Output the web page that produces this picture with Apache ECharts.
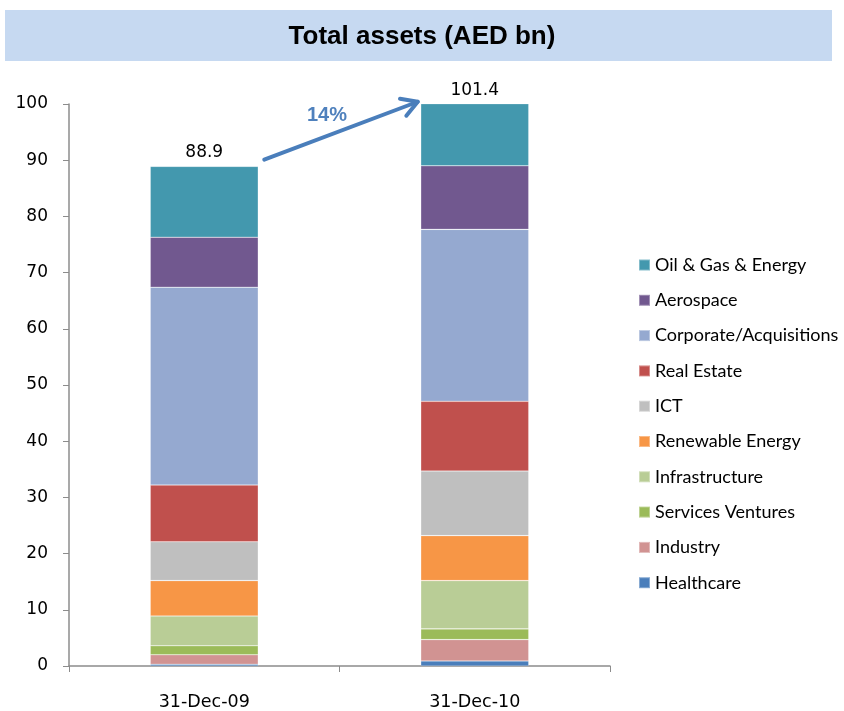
<!DOCTYPE html>
<html>
<head>
<meta charset="utf-8">
<title>Total assets (AED bn)</title>
<script src="https://cdn.jsdelivr.net/npm/echarts@6/dist/echarts.min.js"></script>
<style>
  html, body { margin: 0; padding: 0; background: #fff; }
  #chart { width: 844px; height: 711px; }
</style>
</head>
<body>
<div id="chart"></div>
<script>
// categories and values (AED bn), bottom of stack first
var categories = ["31-Dec-09", "31-Dec-10"];
var healthcare = [0.3, 0.9];
var industry = [1.7, 3.8];
var servicesVentures = [1.6, 1.9];
var infrastructure = [5.3, 8.6];
var renewableEnergy = [6.3, 8.0];
var ict = [6.9, 11.5];
var realEstate = [10.1, 12.4];
var corporate = [35.2, 30.6];
var aerospace = [8.9, 11.3];
var oilGas = [12.6, 12.4];
var totals = [88.9, 101.4];
var growthLabel = "14%";
var yTicks = [0, 10, 20, 30, 40, 50, 60, 70, 80, 90, 100];

var myChart = echarts.init(document.getElementById('chart'));

var seriesDefs = [
  { name: "Healthcare", data: healthcare, color: "#4A7EBB" },
  { name: "Industry", data: industry, color: "#D19392" },
  { name: "Services Ventures", data: servicesVentures, color: "#9BBB59" },
  { name: "Infrastructure", data: infrastructure, color: "#B9CD96" },
  { name: "Renewable Energy", data: renewableEnergy, color: "#F79646" },
  { name: "ICT", data: ict, color: "#BFBFBF" },
  { name: "Real Estate", data: realEstate, color: "#C0504D" },
  { name: "Corporate/Acquisitions", data: corporate, color: "#95A9D0" },
  { name: "Aerospace", data: aerospace, color: "#71588F" },
  { name: "Oil & Gas & Energy", data: oilGas, color: "#4398AE" }
];

var labelFont = "DejaVu Sans";
var barW = 108;

var series = seriesDefs.map(function (d, i) {
  var s = {
    name: d.name,
    type: "bar",
    stack: "total",
    barWidth: barW,
    data: d.data,
    itemStyle: {
      color: d.color,
      borderColor: "rgba(255,255,255,0.35)",
      borderWidth: 0.6
    }
  };
  // total on top of the last segment
  if (i === seriesDefs.length - 1) {
    s.label = {
      show: true,
      position: "top",
      distance: 5,
      color: "#000",
      fontFamily: labelFont,
      fontSize: 17,
      formatter: function (p) { return totals[p.dataIndex].toFixed(1); }
    };
  }
  return s;
});

var option = {
  animation: false,
  color: seriesDefs.map(function (d) { return d.color; }),
  title: {
    text: "Total assets (AED bn)",
    left: "center",
    top: 19,
    textStyle: {
      fontFamily: "Liberation Sans",
      fontWeight: "bold",
      fontSize: 26,
      color: "#000"
    }
  },
  legend: {
    orient: "vertical",
    left: 633,
    top: 250,
    itemWidth: 11,
    itemHeight: 11,
    itemGap: 15.3,
    icon: "rect",
    data: seriesDefs.map(function (d) { return d.name; }).reverse(),
    textStyle: {
      fontFamily: "Lato",
      fontSize: 18,
      lineHeight: 20,
      color: "#000"
    }
  },
  grid: {
    left: 69,
    right: 234,
    top: 104,
    bottom: 45
  },
  xAxis: {
    type: "category",
    data: categories,
    axisLine: { lineStyle: { color: "#8C8C8C", width: 1.5 } },
    axisTick: { show: true, length: 6, lineStyle: { color: "#8C8C8C" } },
    axisLabel: {
      margin: 27,
      color: "#000",
      fontFamily: labelFont,
      fontSize: 17.5
    }
  },
  yAxis: {
    type: "value",
    min: yTicks[0],
    max: yTicks[yTicks.length - 1],
    interval: 10,
    splitLine: { show: false },
    axisLine: { show: true, lineStyle: { color: "#8C8C8C", width: 1.5 } },
    axisTick: { show: true, length: 6, lineStyle: { color: "#8C8C8C" } },
    axisLabel: {
      margin: 21,
      color: "#000",
      fontFamily: labelFont,
      fontSize: 17
    }
  },
  series: series
};

myChart.setOption(option);

// title band and growth arrow
function drawExtras() {
  var p1 = myChart.convertToPixel({ seriesIndex: 0 }, [categories[0], 90.1]);
  var p2 = myChart.convertToPixel({ seriesIndex: 0 }, [categories[1], 100.4]);
  var x1 = p1[0] + barW / 2 + 6, y1 = p1[1];
  var x2 = p2[0] - barW / 2 - 3, y2 = p2[1];
  var ang = Math.atan2(y2 - y1, x2 - x1);
  var arm = 18, spread = Math.PI / 6;
  var h1 = [x2 - arm * Math.cos(ang - spread), y2 - arm * Math.sin(ang - spread)];
  var h2 = [x2 - arm * Math.cos(ang + spread), y2 - arm * Math.sin(ang + spread)];
  var arrowColor = "#4A7EBB";
  myChart.setOption({
    graphic: [
      {
        type: "rect",
        z: -10,
        silent: true,
        shape: { x: 5, y: 10, width: 827, height: 51 },
        style: { fill: "#C6D9F1" }
      },
      {
        type: "line",
        silent: true,
        shape: { x1: x1, y1: y1, x2: x2, y2: y2 },
        style: { stroke: arrowColor, lineWidth: 4, lineCap: "round" }
      },
      {
        type: "polyline",
        silent: true,
        shape: { points: [h1, [x2, y2], h2] },
        style: { stroke: arrowColor, lineWidth: 4, lineCap: "round", lineJoin: "round", fill: null }
      },
      {
        type: "text",
        silent: true,
        x: (x1 + x2) / 2 - 14,
        y: (y1 + y2) / 2 - 15,
        style: {
          text: growthLabel,
          fill: "#4F81BD",
          font: "bold 20px 'Liberation Sans'",
          align: "center",
          verticalAlign: "middle"
        }
      }
    ]
  });
}
drawExtras();

window.addEventListener("resize", function () {
  myChart.resize();
  drawExtras();
});
</script>
</body>
</html>
